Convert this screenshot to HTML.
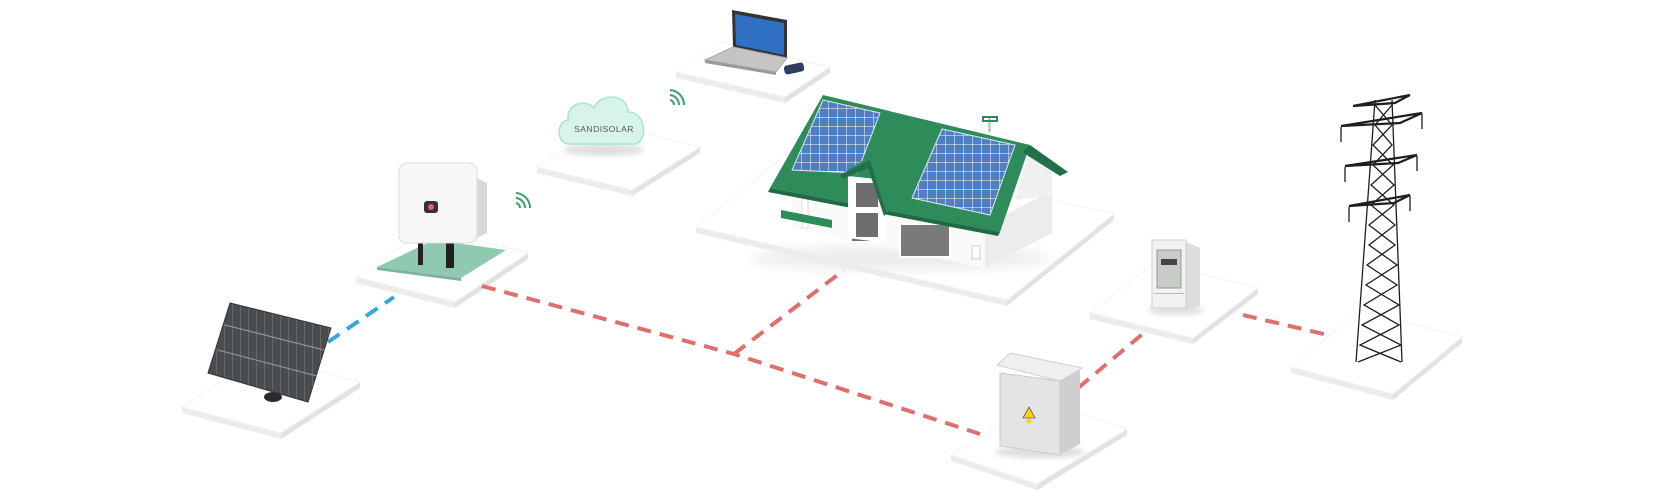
<!DOCTYPE html>
<html><head><meta charset="utf-8"><style>
html,body{margin:0;padding:0;background:#fff;width:1680px;height:492px;overflow:hidden}
svg{display:block}
text{font-family:"Liberation Sans",sans-serif}
</style></head><body>
<svg width="1680" height="492" viewBox="0 0 1680 492" xmlns="http://www.w3.org/2000/svg">
<defs>
<filter id="blur" x="-20%" y="-20%" width="140%" height="140%"><feGaussianBlur stdDeviation="6"/></filter>
<filter id="blur2" x="-20%" y="-20%" width="140%" height="140%"><feGaussianBlur stdDeviation="3"/></filter>
<pattern id="pv" width="9" height="9" patternUnits="userSpaceOnUse"><rect width="9" height="9" fill="#4f7fc0"/><path d="M0 0H9M0 0V9" stroke="#dfe8f5" stroke-width="1.2"/></pattern>
<pattern id="pvd" width="8" height="40" patternUnits="userSpaceOnUse"><rect width="8" height="40" fill="#4a4d50"/><path d="M0 0V40" stroke="#7d8285" stroke-width="1"/></pattern>
</defs>
<rect width="1680" height="492" fill="#ffffff"/>

<!-- platforms: top + edge -->
<g>
 <polygon points="182,407 281,433 281,439 182,413" fill="#ececec"/>
 <polygon points="281,433 360,382 360,388 281,439" fill="#e2e2e2"/>
 <polygon points="182,407 281,433 360,382 261,356" fill="#fff" stroke="#f2f2f2"/>
 <polygon points="356,277 455,302 455,308 356,283" fill="#ececec"/>
 <polygon points="455,302 528,253 528,259 455,308" fill="#e2e2e2"/>
 <polygon points="356,277 455,302 528,253 429,228" fill="#fff" stroke="#f2f2f2"/>
 <polygon points="537,167 632,190 632,196 537,173" fill="#ececec"/>
 <polygon points="632,190 700,147 700,153 632,196" fill="#e2e2e2"/>
 <polygon points="537,167 632,190 700,147 605,124" fill="#fff" stroke="#f2f2f2"/>
 <polygon points="676,72 785,97 785,103 676,78" fill="#ececec"/>
 <polygon points="785,97 830,67 830,73 785,103" fill="#e2e2e2"/>
 <polygon points="676,72 785,97 830,67 721,42" fill="#fff" stroke="#f2f2f2"/>
 <polygon points="696,227 1007,300 1007,306 696,233" fill="#ececec"/>
 <polygon points="1007,300 1114,214 1114,220 1007,306" fill="#e2e2e2"/>
 <polygon points="696,227 1007,300 1114,214 803,141" fill="#fff" stroke="#f2f2f2"/>
 <polygon points="1090,313 1193,338 1193,344 1090,319" fill="#ececec"/>
 <polygon points="1193,338 1258,288 1258,294 1193,344" fill="#e2e2e2"/>
 <polygon points="1090,313 1193,338 1258,288 1155,263" fill="#fff" stroke="#f2f2f2"/>
 <polygon points="951,455 1037,484 1037,490 951,461" fill="#ececec"/>
 <polygon points="1037,484 1127,429 1127,435 1037,490" fill="#e2e2e2"/>
 <polygon points="951,455 1037,484 1127,429 1041,400" fill="#fff" stroke="#f2f2f2"/>
 <polygon points="1291,367 1393,394 1393,400 1291,373" fill="#ececec"/>
 <polygon points="1393,394 1462,337 1462,343 1393,400" fill="#e2e2e2"/>
 <polygon points="1291,367 1393,394 1462,337 1360,310" fill="#fff" stroke="#f2f2f2"/>
</g>

<!-- dashed connectors -->
<g fill="none" stroke-width="4" stroke-dasharray="14 9">
 <path d="M328,342 L394,297" stroke="#38a8d8"/>
 <path d="M482,286 L734,354 L980,434" stroke="#e06e6e"/>
 <path d="M734,354 L844,270" stroke="#e06e6e"/>
 <path d="M1078,388 L1145,332" stroke="#e06e6e"/>
 <path d="M1243,315 L1328,335" stroke="#e06e6e"/>
</g>

<!-- solar panel -->
<ellipse cx="273" cy="397" rx="9" ry="5" fill="#2a2a2a"/>
<polygon points="230,303 331,328 308,402 208,373" fill="url(#pvd)" stroke="#333"/>
<path d="M225,325 L324,350 M218,350 L317,376" stroke="#9a9ea0" stroke-width="1"/>

<!-- inverter -->
<polygon points="377,267 461,278 506,250 434,240" fill="#8fc9b0"/>
<polygon points="377,267 461,278 461,281 377,270" fill="#7ab59b"/>
<rect x="418" y="238" width="5" height="27" fill="#222"/>
<rect x="446" y="238" width="8" height="30" fill="#222"/>
<path d="M476,178 L487,183 L487,233 L476,238 Z" fill="#d8d8d8"/>
<rect x="399" y="163" width="78" height="80" rx="8" fill="#f7f7f7" stroke="#dcdcdc"/>
<rect x="424" y="201" width="14" height="12" rx="3" fill="#333"/>
<circle cx="431" cy="207" r="3" fill="#d66"/>
<g fill="none" stroke="#3aa06a" stroke-width="2">
 <path d="M516,203 a5,5 0 0 1 4,5"/><path d="M516,198 a10,10 0 0 1 9,10"/><path d="M516,193 a15,15 0 0 1 14,15"/>
</g>

<!-- cloud -->
<ellipse cx="604" cy="150" rx="40" ry="6" fill="#ddd" filter="url(#blur2)"/>
<path d="M568,144 C556,142 556,122 568,120 C566,104 585,98 594,108 C600,92 628,94 628,112 C646,112 648,140 636,144 Z" fill="#d6f4ec" stroke="#a8e3d3" stroke-width="1.5"/>
<text x="604" y="132" font-size="8.5" fill="#555" text-anchor="middle" letter-spacing="0.5">SANDISOLAR</text>
<g fill="none" stroke="#3aa06a" stroke-width="2">
 <path d="M670,100 a5,5 0 0 1 4,5"/><path d="M670,95 a10,10 0 0 1 9,10"/><path d="M670,90 a15,15 0 0 1 14,15"/>
</g>

<!-- laptop -->
<polygon points="732,10 787,20 787,58 733,47" fill="#333"/>
<polygon points="735,14 784,23 784,55 736,45" fill="#2f6fc4"/>
<polygon points="733,47 787,58 776,72 705,60" fill="#c4c4c4" stroke="#aaa"/>
<polygon points="705,60 776,72 776,75 705,63" fill="#999"/>
<rect x="784" y="64" width="20" height="9" rx="3" fill="#2d3e60" transform="rotate(-12 794 68)"/>

<!-- house -->
<ellipse cx="900" cy="258" rx="150" ry="12" fill="#ececec" filter="url(#blur)"/>
<polygon points="985,226 1052,190 1052,233 985,268" fill="#ececec"/>
<polygon points="1030,150 1052,168 1052,195 1015,200" fill="#f0f0f0"/>
<polygon points="792,186 985,226 985,268 792,228" fill="#fafafa"/>
<rect x="802" y="190" width="6" height="38" fill="#fff" stroke="#ddd"/>
<polygon points="781,210 832,220 832,228 781,218" fill="#2e8b5a"/>
<rect x="851" y="210" width="30" height="32" fill="#6e6e6e" stroke="#fff" stroke-width="2"/>
<rect x="900" y="224" width="50" height="33" fill="#7a7a7a" stroke="#fff" stroke-width="2"/>
<rect x="972" y="246" width="8" height="13" fill="#fff" stroke="#ccc"/>
<polygon points="823,95 1030,145 1000,232 770,188" fill="#2e8b5a"/>
<polygon points="1030,145 1068,172 1060,176 1022,152" fill="#246f48"/>
<polygon points="770,188 1000,232 998,236 768,192" fill="#1f6a43"/>
<polygon points="823,100 880,113 857,173 792,170" fill="url(#pv)" stroke="#dfe8f5"/>
<polygon points="942,129 1015,145 990,215 912,198" fill="url(#pv)" stroke="#dfe8f5"/>
<polygon points="848,176 886,180 886,243 848,238" fill="#fff"/>
<rect x="855" y="182" width="24" height="26" fill="#6e6e6e" stroke="#fff" stroke-width="2"/>
<rect x="855" y="212" width="24" height="26" fill="#6e6e6e" stroke="#fff" stroke-width="2"/>
<polygon points="840,175 903,135 912,175 887,213 870,160" fill="#2e8b5a"/>
<polygon points="840,175 870,160 887,213 884,216 868,168 843,179" fill="#246f48"/>
<rect x="988" y="118" width="3" height="14" fill="#ccc"/>
<rect x="983" y="117" width="14" height="4" fill="none" stroke="#2e8b5a" stroke-width="2"/>

<!-- meter -->
<ellipse cx="1176" cy="310" rx="28" ry="5" fill="#ddd" filter="url(#blur2)"/>
<polygon points="1186,242 1200,248 1200,306 1186,309" fill="#dcdcdc"/>
<rect x="1152" y="240" width="34" height="68" fill="#f2f2f2" stroke="#cfcfcf"/>
<rect x="1157" y="250" width="24" height="38" fill="#c8ccc6" stroke="#999"/>
<rect x="1161" y="259" width="16" height="6" fill="#444"/>
<rect x="1154" y="293" width="30" height="1" fill="#bbb"/>

<!-- switch box -->
<ellipse cx="1040" cy="452" rx="45" ry="6" fill="#ddd" filter="url(#blur2)"/>
<polygon points="1060,378 1080,370 1080,444 1060,455" fill="#cfcfcf"/>
<polygon points="1000,373 1060,381 1060,455 1000,446" fill="#e4e4e4" stroke="#c8c8c8"/>
<polygon points="997,365 1010,353 1082,368 1060,381" fill="#f0f0f0" stroke="#cfcfcf"/>
<polygon points="1029,407 1035,418 1023,418" fill="#f3d21b" stroke="#333" stroke-width="0.6"/>
<circle cx="1029" cy="421" r="2.5" fill="#f3d21b"/>

<!-- tower -->
<g stroke="#1e1e1e" fill="none" stroke-width="1.3">
 <path d="M1375,100 L1356,362 M1392,100 L1402,362"/>
 <path d="M1375,105 L1392,125 L1373,145 L1393,165 L1371,185 L1394,205 L1369,225 L1395,245 L1367,265 L1397,285 L1364,305 L1399,325 L1360,345 L1401,362"/>
 <path d="M1392,105 L1375,125 L1392,145 L1373,165 L1394,185 L1371,205 L1395,225 L1369,245 L1397,265 L1366,285 L1399,305 L1362,325 L1401,345 L1358,362"/>
 <g stroke-width="2.2">
  <path d="M1353,106 L1410,95 L1395,103 Z"/>
  <path d="M1341,126 L1422,113 L1400,123 Z"/>
  <path d="M1345,166 L1417,155 L1398,163 Z"/>
  <path d="M1349,206 L1410,195 L1394,203 Z"/>
 </g>
 <path d="M1341,127 V142 M1422,114 V129 M1345,167 V182 M1417,156 V171 M1349,207 V222 M1410,196 V211"/>
</g>
</svg>
</body></html>
